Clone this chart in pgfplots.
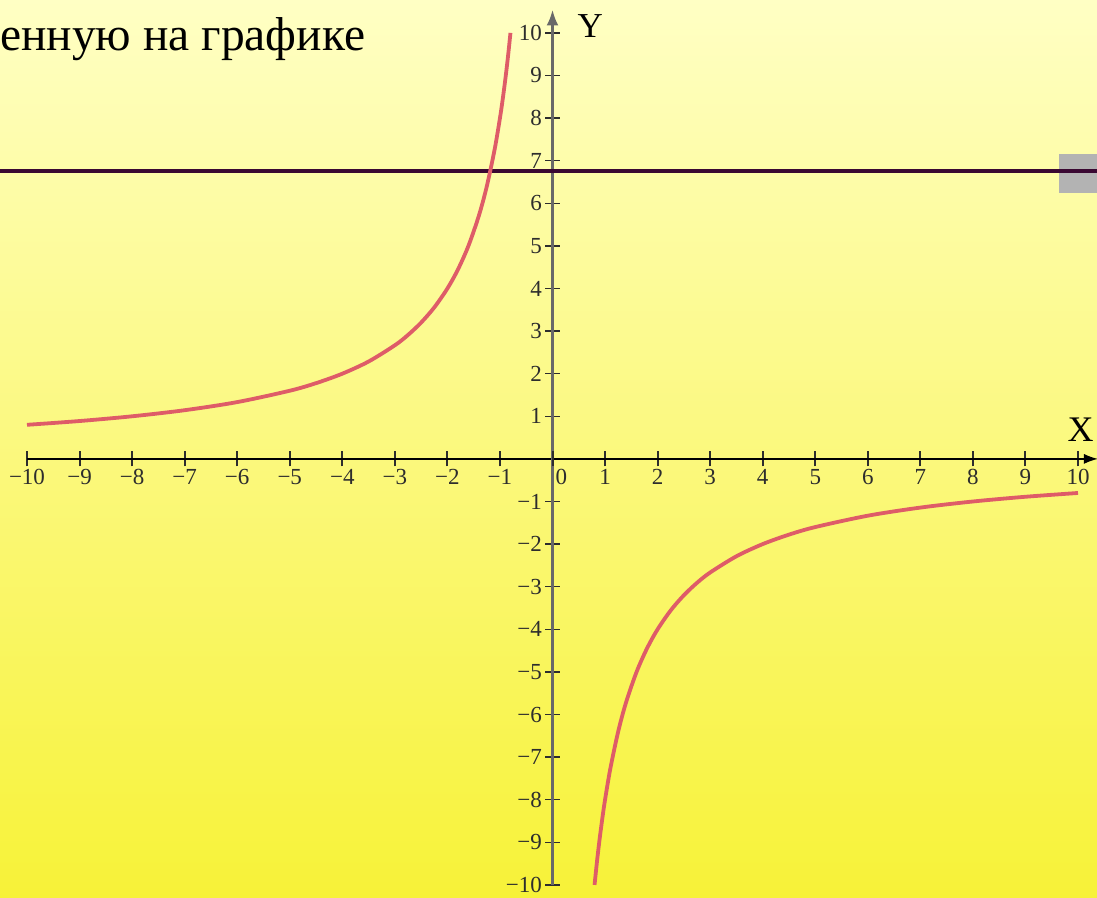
\documentclass[border=0pt]{standalone}
\usepackage{fontspec}
\setmainfont{Liberation Serif}
\usepackage{pgfplots}
\pgfplotsset{compat=1.18}
\usetikzlibrary{arrows.meta}
\definecolor{bgtop}{RGB}{255,255,196}
\definecolor{bgbot}{RGB}{247,242,56}
\definecolor{curvec}{RGB}{222,92,104}
\definecolor{hlinec}{RGB}{58,8,50}
\definecolor{ticklab}{RGB}{45,45,45}
\definecolor{yaxisc}{RGB}{105,105,105}
\definecolor{rectc}{RGB}{179,179,179}
\begin{document}
\begin{tikzpicture}[x=1pt,y=1pt]
\clip (0pt,0pt) rectangle (1097pt,897pt);
\shade[top color=bgtop, bottom color=bgbot] (0pt,0pt) rectangle (1097pt,897pt);
\node[anchor=base west, inner sep=0pt, font=\fontsize{47.5}{52}\selectfont] at (0pt,846pt) {енную на графике};
\begin{axis}[
  anchor=origin, at={(552.5pt,438.1pt)},
  x=52.55pt, y=42.6pt,
  xmin=-10, xmax=10.38, ymin=-10, ymax=10.55,
  axis lines=middle,
  clip=false,
  x axis line style={black, line width=1.5pt, -{Latex[length=14pt,width=10pt]}},
  y axis line style={yaxisc, line width=3pt, -{Latex[length=16pt,width=12pt]}},
  tick align=center,
  major tick length=15pt,
  xtick={-10,-9,-8,-7,-6,-5,-4,-3,-2,-1,1,2,3,4,5,6,7,8,9,10},
  xticklabels={−10,−9,−8,−7,−6,−5,−4,−3,−2,−1,1,2,3,4,5,6,7,8,9,10},
  ytick={-10,-9,-8,-7,-6,-5,-4,-3,-2,-1,1,2,3,4,5,6,7,8,9,10},
  yticklabels={−10,−9,−8,−7,−6,−5,−4,−3,−2,−1,1,2,3,4,5,6,7,8,9,10},
  extra x ticks={0},
  extra x tick labels={0},
  extra x tick style={xticklabel style={anchor=north west, xshift=3pt}},
  x tick style={ticklab, line width=2pt},
  y tick style={ticklab, line width=1.5pt},
  xticklabel style={font=\fontsize{23}{23}\selectfont, text=ticklab, inner sep=0pt, anchor=north, yshift=-3pt},
  yticklabel style={font=\fontsize{23}{23}\selectfont, text=ticklab, inner sep=0pt, anchor=east, xshift=-3pt},
]
\addplot[draw=none, fill=rectc] coordinates {(9.64,6.25) (10.6,6.25) (10.6,7.157) (9.64,7.157)} --cycle;
\addplot[hlinec, line width=3.5pt] coordinates {(-10.6,6.76) (10.6,6.76)};
\addplot[curvec, line width=3.8pt, smooth] coordinates {
(-10,0.8) (-9,0.8889) (-8,1) (-7,1.1429) (-6,1.3333) (-5,1.6) (-4.5,1.7778) (-4,2) (-3.5,2.2857) (-3,2.6667) (-2.75,2.9091) (-2.5,3.2) (-2.25,3.5556) (-2,4) (-1.8,4.4444) (-1.6,5) (-1.4,5.7143) (-1.25,6.4) (-1.1,7.2727) (-1,8) (-0.95,8.4211) (-0.9,8.8889) (-0.85,9.4118) (-0.8,10)
};
\addplot[curvec, line width=3.8pt, smooth] coordinates {
(0.8,-10) (0.85,-9.4118) (0.9,-8.8889) (0.95,-8.4211) (1,-8) (1.1,-7.2727) (1.25,-6.4) (1.4,-5.7143) (1.6,-5) (1.8,-4.4444) (2,-4) (2.25,-3.5556) (2.5,-3.2) (2.75,-2.9091) (3,-2.6667) (3.5,-2.2857) (4,-2) (4.5,-1.7778) (5,-1.6) (6,-1.3333) (7,-1.1429) (8,-1) (9,-0.8889) (10,-0.8)
};
\node[font=\fontsize{35}{35}\selectfont] at (axis cs:0.72,10.15) {Y};
\node[font=\fontsize{36}{36}\selectfont] at (axis cs:10.05,0.68) {X};
\end{axis}
\end{tikzpicture}
\end{document}
